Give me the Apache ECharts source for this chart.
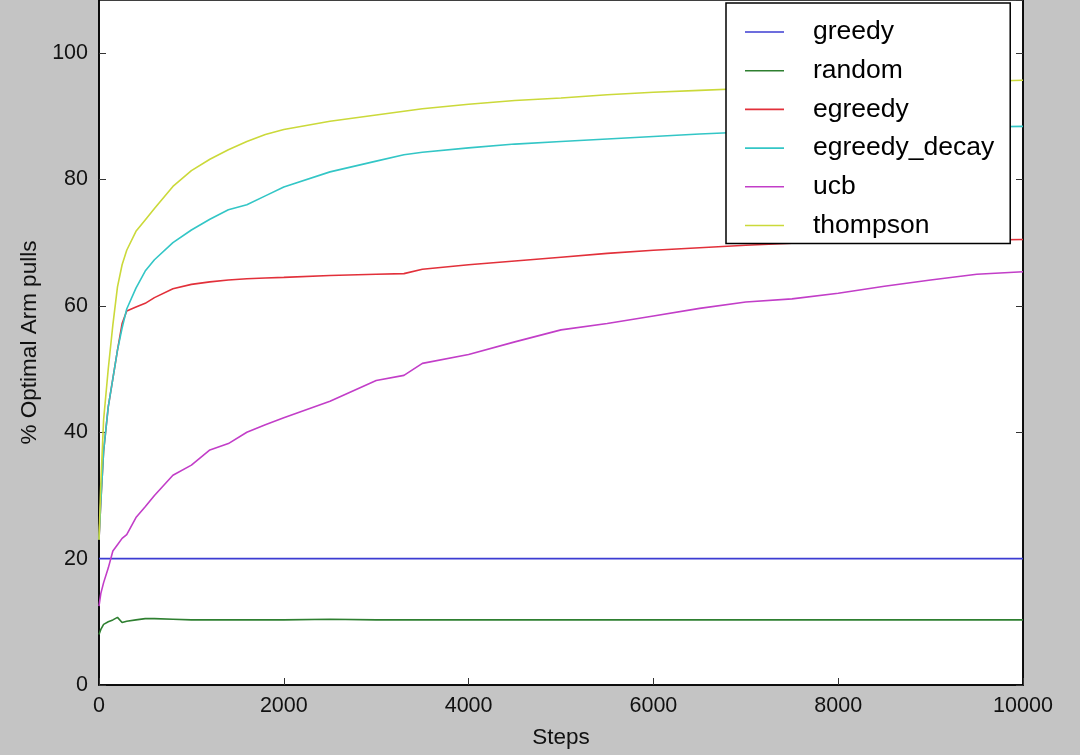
<!DOCTYPE html>
<html>
<head>
<meta charset="utf-8">
<title>Optimal arm pulls</title>
<script src="https://cdn.jsdelivr.net/npm/echarts@6/dist/echarts.min.js"></script>
<style>
  html, body { margin: 0; padding: 0; background: #c4c4c4; }
</style>
</head>
<body>
<!-- chart container -->
<div id="main" style="width:1080px;height:755px;"></div>
<script>
// steps (x axis), denser near the start where the curves move fast
var steps = [0, 20, 50, 100, 150, 200, 250, 300, 400, 500, 600, 800, 1000, 1200, 1400, 1600, 1800, 2000,
  2500, 3000, 3300, 3500, 4000, 4500, 5000, 5500, 6000, 6500, 7000, 7500, 8000, 8500, 9000, 9500, 10000];

// % optimal arm pulls per strategy
var greedy = [20, 20, 20, 20, 20, 20, 20, 20, 20, 20, 20, 20, 20, 20, 20, 20, 20, 20,
  20, 20, 20, 20, 20, 20, 20, 20, 20, 20, 20, 20, 20, 20, 20, 20, 20];
var random = [8.0, 8.8, 9.6, 10.0, 10.3, 10.7, 9.9, 10.1, 10.3, 10.5, 10.5, 10.4, 10.3, 10.3, 10.3, 10.3, 10.3, 10.3,
  10.4, 10.3, 10.3, 10.3, 10.3, 10.3, 10.3, 10.3, 10.3, 10.3, 10.3, 10.3, 10.3, 10.3, 10.3, 10.3, 10.3];
var egreedy = [23, 29, 37, 44, 48.5, 53, 57.2, 59.2, 59.8, 60.4, 61.3, 62.7, 63.4, 63.8, 64.1, 64.3, 64.4, 64.5,
  64.8, 65.0, 65.1, 65.8, 66.5, 67.1, 67.7, 68.3, 68.8, 69.2, 69.6, 69.9, 70.0, 70.2, 70.3, 70.4, 70.5];
var egreedyDecay = [23, 29, 37, 44, 48.5, 53, 56.5, 59.5, 62.8, 65.5, 67.3, 70.0, 72.0, 73.7, 75.2, 76.0, 77.4, 78.8,
  81.2, 82.9, 83.9, 84.3, 85.0, 85.6, 86.0, 86.4, 86.8, 87.2, 87.5, 87.7, 87.9, 88.1, 88.2, 88.3, 88.4];
var ucb = [12.5, 14.5, 16.2, 18.5, 21.2, 22.2, 23.2, 23.8, 26.5, 28.2, 30.0, 33.2, 34.8, 37.2, 38.2, 40.0, 41.2, 42.3,
  44.9, 48.2, 49.0, 50.9, 52.3, 54.3, 56.2, 57.2, 58.4, 59.6, 60.6, 61.1, 62.0, 63.1, 64.1, 65.0, 65.4];
var thompson = [23, 32, 42, 50, 57, 63, 66.5, 68.8, 71.8, 73.6, 75.4, 78.9, 81.4, 83.2, 84.7, 86.0, 87.1, 87.9,
  89.2, 90.2, 90.8, 91.2, 91.9, 92.5, 92.9, 93.4, 93.8, 94.1, 94.4, 94.7, 94.9, 95.1, 95.3, 95.5, 95.7];

var seriesNames = ['greedy', 'random', 'egreedy', 'egreedy_decay', 'ucb', 'thompson'];
var seriesValues = [greedy, random, egreedy, egreedyDecay, ucb, thompson];
var seriesColors = ['#3c3cd2', '#2e7f30', '#e2303a', '#33c6c6', '#c23ec8', '#cbd93a'];

var yTicks = [0, 20, 40, 60, 80, 100];
var xTicks = [0, 2000, 4000, 6000, 8000, 10000];

var fontName = 'Liberation Sans';

// pair steps with values
function toPairs(vals) {
  var out = [];
  for (var i = 0; i < steps.length; i++) {
    out.push([steps[i], vals[i]]);
  }
  return out;
}

var series = [];
for (var i = 0; i < seriesNames.length; i++) {
  series.push({
    name: seriesNames[i],
    type: 'line',
    data: toPairs(seriesValues[i]),
    symbol: 'none',
    smooth: false,
    animation: false,
    lineStyle: { color: seriesColors[i], width: 1.6 },
    itemStyle: { color: seriesColors[i] }
  });
}

var myChart = echarts.init(document.getElementById('main'));

var option = {
  backgroundColor: '#c4c4c4',
  animation: false,
  grid: {
    left: 99,
    right: 57,
    top: 0,
    bottom: 70,
    show: true,
    backgroundColor: '#ffffff',
    borderColor: '#000',
    borderWidth: 1.5
  },
  legend: {
    data: seriesNames,
    orient: 'vertical',
    left: 726,
    top: 3,
    backgroundColor: '#ffffff',
    borderColor: '#000',
    borderWidth: 1.5,
    padding: [15, 16, 4, 19],
    // plain short line as the key, no marker
    icon: 'rect',
    itemWidth: 39,
    itemHeight: 1.6,
    itemGap: 10.7,
    textStyle: {
      fontFamily: fontName,
      fontSize: 26.5,
      lineHeight: 28,
      color: '#000',
      padding: [0, 0, 0, 24]
    }
  },
  xAxis: {
    type: 'value',
    min: xTicks[0],
    max: xTicks[xTicks.length - 1],
    interval: 2000,
    name: 'Steps',
    nameLocation: 'middle',
    nameGap: 41,
    nameTextStyle: { fontFamily: fontName, fontSize: 22.5, color: '#111' },
    axisLine: { show: true, lineStyle: { color: '#000', width: 1.5 } },
    axisTick: { show: true, inside: true, length: 7, lineStyle: { color: '#333' } },
    axisLabel: {
      fontFamily: fontName, fontSize: 21.5, color: '#111', margin: 10,
      formatter: function (v) { return String(v); }
    },
    splitLine: { show: false }
  },
  yAxis: [
    {
      type: 'value',
      min: yTicks[0],
      max: 108.4,
      interval: 20,
      name: '% Optimal Arm pulls',
      nameLocation: 'middle',
      nameGap: 50,
      nameTextStyle: { fontFamily: fontName, fontSize: 22.5, color: '#111' },
      axisLine: { show: true, lineStyle: { color: '#000', width: 1.5 } },
      axisTick: { show: true, inside: true, length: 7, lineStyle: { color: '#333' } },
      axisLabel: { fontFamily: fontName, fontSize: 21.5, color: '#111', margin: 11, showMaxLabel: false },
      splitLine: { show: false }
    },
    {
      // right side only carries the small inner ticks
      type: 'value',
      position: 'right',
      min: yTicks[0],
      max: 108.4,
      interval: 20,
      axisLine: { show: true, lineStyle: { color: '#000', width: 1.5 } },
      axisTick: { show: true, inside: true, length: 7, lineStyle: { color: '#333' } },
      axisLabel: { show: false },
      splitLine: { show: false }
    }
  ],
  series: series
};

myChart.setOption(option);
</script>
</body>
</html>
